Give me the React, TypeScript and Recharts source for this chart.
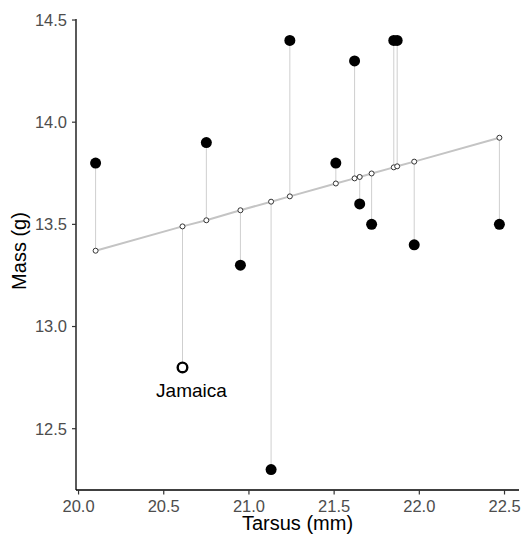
import { ErrorBar, Scatter, ScatterChart, XAxis, YAxis } from 'recharts'

// values, sorted by tarsus
const tarsus = [20.1, 20.61, 20.75, 20.95, 21.13, 21.24, 21.51, 21.62, 21.65, 21.72, 21.85, 21.87, 21.97, 22.47]
const mass = [13.8, 12.8, 13.9, 13.3, 12.3, 14.4, 13.8, 14.3, 13.6, 13.5, 14.4, 14.4, 13.4, 13.5]
const fitted = [13.371, 13.49, 13.52, 13.569, 13.611, 13.637, 13.7, 13.725, 13.732, 13.749, 13.779, 13.784, 13.807, 13.924]
const islands = ['', 'Jamaica', '', '', '', '', '', '', '', '', '', '', '', '']
const highlight = 'Jamaica'

const xTicks = [20, 20.5, 21, 21.5, 22, 22.5]
const yTicks = [12.5, 13, 13.5, 14, 14.5]

const FONT = '"Liberation Sans", Arial, sans-serif'

const fittedData = tarsus.map((x, i) => {
  const d = mass[i] - fitted[i]
  return { x, y: fitted[i], resid: d > 0 ? [0, d] : [-d, 0] }
})
const observed = tarsus
  .map((x, i) => ({ x, y: mass[i], name: islands[i] }))
  .filter((d) => d.name !== highlight)
const highlighted = tarsus
  .map((x, i) => ({ x, y: mass[i], name: islands[i] }))
  .filter((d) => d.name === highlight)

const FittedDot = (p: any) => (
  <circle cx={p.cx} cy={p.cy} r={2.5} fill="#fff" stroke="#333" strokeWidth={1} />
)
const SolidDot = (p: any) => <circle cx={p.cx} cy={p.cy} r={5.5} fill="#000" />
const LabelledDot = (p: any) => (
  <g>
    <circle cx={p.cx} cy={p.cy} r={4.8} fill="#fff" stroke="#000" strokeWidth={2.4} />
    <text x={p.cx + 9} y={p.cy + 30} textAnchor="middle" fontSize={19} fontFamily={FONT} fill="#000">
      {p.payload.name}
    </text>
  </g>
)

export default function App() {
  const tick = { fill: '#4d4d4d', fontSize: 16.5, fontFamily: FONT }
  return (
    <div style={{ position: 'absolute', left: 0, top: 0, background: '#fff' }}>
      <ScatterChart width={522} height={537} margin={{ top: 19, right: 3, bottom: 0, left: 0 }}>
        <XAxis
          type="number"
          dataKey="x"
          domain={[19.985, 22.585]}
          ticks={xTicks}
          tickFormatter={(v: number) => v.toFixed(1)}
          allowDataOverflow
          height={47}
          tickSize={4.5}
          tickMargin={6}
          tick={tick}
          axisLine={{ stroke: '#000', strokeWidth: 1.3 }}
          tickLine={{ stroke: '#333', strokeWidth: 1.2 }}
          label={{
            content: () => (
              <text x={297.5} y={530} textAnchor="middle" fontSize={20} fontFamily={FONT} fill="#000">
                Tarsus (mm)
              </text>
            ),
          }}
        />
        <YAxis
          type="number"
          dataKey="y"
          domain={[12.2, 14.505]}
          ticks={yTicks}
          tickFormatter={(v: number) => v.toFixed(1)}
          allowDataOverflow
          width={76}
          tickSize={4}
          tickMargin={5}
          tick={tick}
          axisLine={{ stroke: '#000', strokeWidth: 1.3 }}
          tickLine={{ stroke: '#333', strokeWidth: 1.2 }}
          label={{
            content: () => (
              <text
                x={26}
                y={251}
                transform="rotate(-90 26 251)"
                textAnchor="middle"
                fontSize={20}
                fontFamily={FONT}
                fill="#000"
              >
                Mass (g)
              </text>
            ),
          }}
        />
        <Scatter
          data={fittedData}
          line={{ stroke: '#c4c4c4', strokeWidth: 2 }}
          shape={FittedDot}
          isAnimationActive={false}
        >
          <ErrorBar dataKey="resid" direction="y" width={0} stroke="#cfcfcf" strokeWidth={1} />
        </Scatter>
        <Scatter data={observed} shape={SolidDot} isAnimationActive={false} />
        <Scatter data={highlighted} shape={LabelledDot} isAnimationActive={false} />
      </ScatterChart>
    </div>
  )
}
